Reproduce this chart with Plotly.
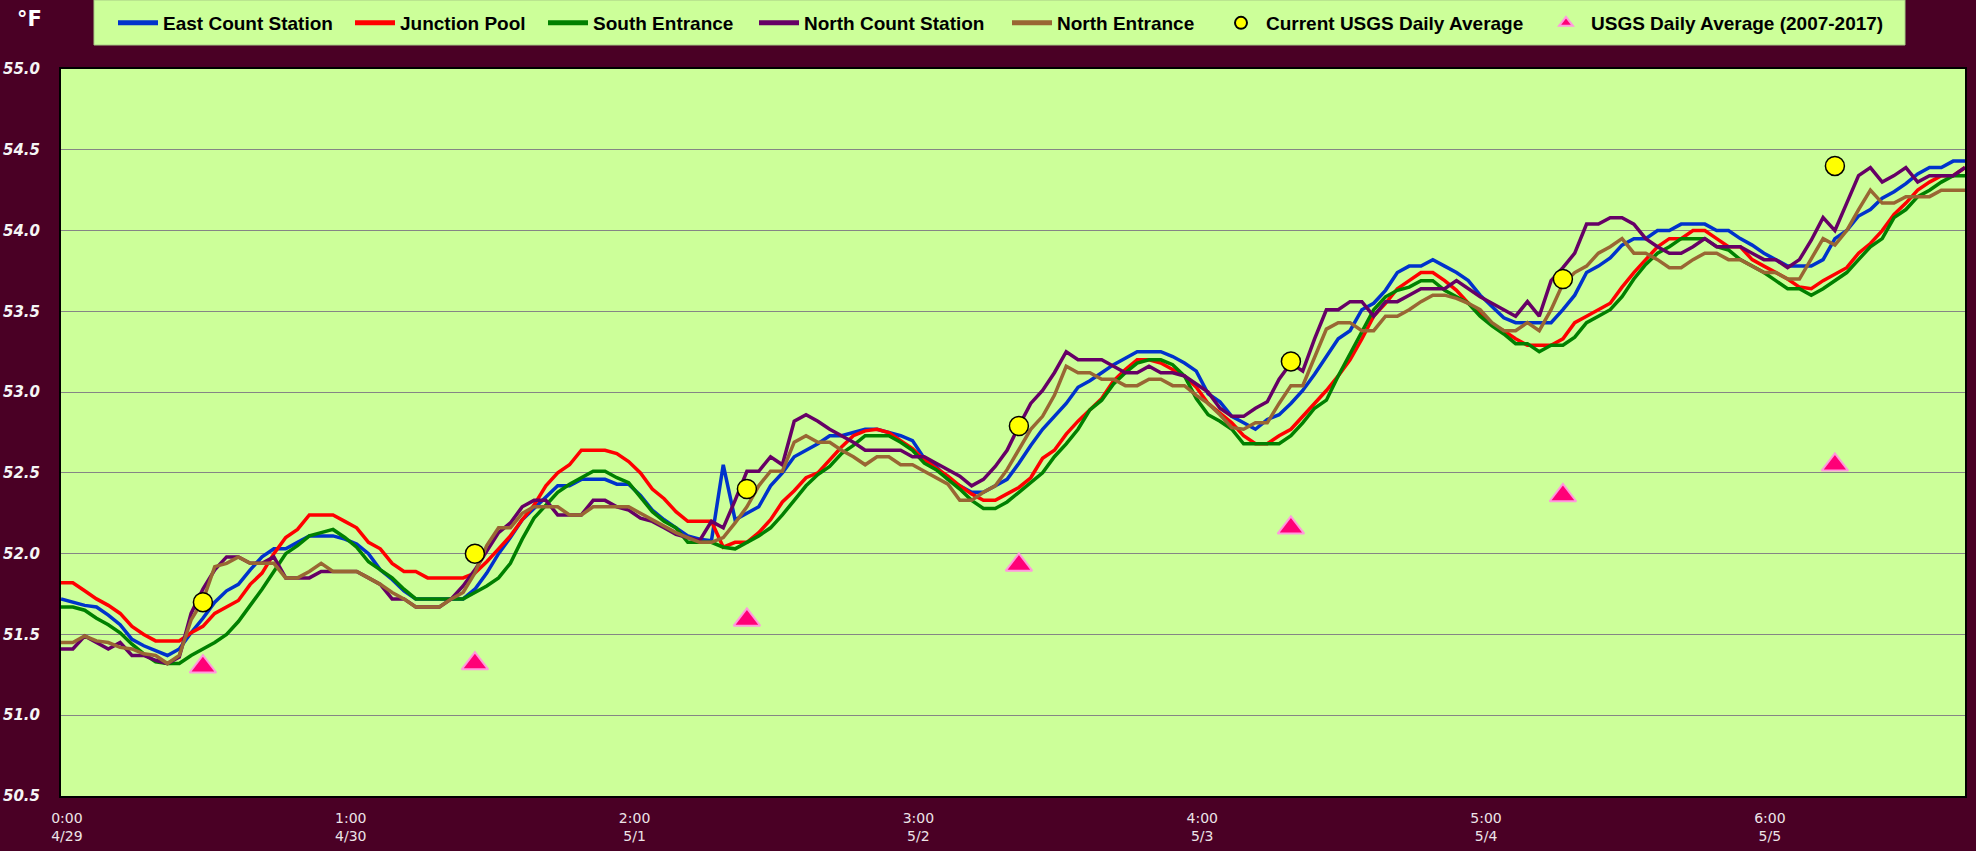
import plotly.graph_objects as go

# ---------------- data ----------------
TICK_TEXT = ["0:00<br>4/29", "1:00<br>4/30", "2:00<br>5/1", "3:00<br>5/2",
             "4:00<br>5/3", "5:00<br>5/4", "6:00<br>5/5"]

SERIES_NAMES = ["East Count Station", "Junction Pool", "South Entrance",
                "North Count Station", "North Entrance"]

EAST_COUNT = [
    51.72, 51.70, 51.68, 51.67, 51.62, 51.56, 51.47, 51.43, 51.40, 51.37,
    51.41, 51.51, 51.60, 51.70, 51.77, 51.81, 51.90, 51.98, 52.03, 52.03,
    52.07, 52.11, 52.11, 52.11, 52.09, 52.06, 52.00, 51.90, 51.84, 51.77,
    51.72, 51.72, 51.72, 51.72, 51.72, 51.78, 51.88, 52.00, 52.10, 52.21,
    52.28, 52.35, 52.42, 52.42, 52.46, 52.46, 52.46, 52.43, 52.43, 52.36,
    52.27, 52.21, 52.16, 52.11, 52.09, 52.08, 52.55, 52.21, 52.25, 52.29,
    52.42, 52.50, 52.60, 52.64, 52.68, 52.73, 52.73, 52.75, 52.77, 52.77,
    52.75, 52.73, 52.70, 52.59, 52.54, 52.46, 52.42, 52.38, 52.38, 52.42,
    52.46, 52.56, 52.67, 52.77, 52.85, 52.93, 53.03, 53.07, 53.12, 53.17,
    53.21, 53.25, 53.25, 53.25, 53.22, 53.18, 53.13, 52.99, 52.94, 52.85,
    52.81, 52.77, 52.83, 52.86, 52.93, 53.01, 53.11, 53.22, 53.33, 53.38,
    53.51, 53.55, 53.63, 53.74, 53.78, 53.78, 53.82, 53.78, 53.74, 53.69,
    53.60, 53.53, 53.46, 53.43, 53.43, 53.43, 53.43, 53.51, 53.60, 53.74,
    53.78, 53.83, 53.91, 53.95, 53.95, 54.00, 54.00, 54.04, 54.04, 54.04,
    54.00, 54.00, 53.95, 53.91, 53.86, 53.82, 53.78, 53.78, 53.78, 53.82,
    53.95, 54.00, 54.09, 54.13, 54.20, 54.24, 54.29, 54.35, 54.39, 54.39,
    54.43, 54.43,
]

JUNCTION_POOL = [
    51.82, 51.82, 51.77, 51.72, 51.68, 51.63, 51.55, 51.50, 51.46, 51.46,
    51.46, 51.51, 51.55, 51.63, 51.67, 51.71, 51.81, 51.88, 52.00, 52.10,
    52.15, 52.24, 52.24, 52.24, 52.20, 52.16, 52.07, 52.03, 51.94, 51.89,
    51.89, 51.85, 51.85, 51.85, 51.85, 51.88, 51.95, 52.03, 52.11, 52.21,
    52.30, 52.42, 52.50, 52.55, 52.64, 52.64, 52.64, 52.62, 52.57, 52.50,
    52.40, 52.34, 52.26, 52.20, 52.20, 52.20, 52.04, 52.07, 52.07, 52.13,
    52.21, 52.32, 52.39, 52.47, 52.50, 52.58, 52.66, 52.73, 52.76, 52.77,
    52.75, 52.70, 52.65, 52.58, 52.53, 52.48, 52.42, 52.37, 52.33, 52.33,
    52.37, 52.41, 52.47, 52.59, 52.64, 52.74, 52.82, 52.89, 52.96, 53.07,
    53.14, 53.20, 53.20, 53.18, 53.14, 53.10, 53.03, 52.93, 52.87, 52.81,
    52.73, 52.68, 52.68, 52.73, 52.77, 52.85, 52.93, 53.01, 53.10, 53.20,
    53.33, 53.47, 53.55, 53.64, 53.69, 53.74, 53.74, 53.69, 53.63, 53.55,
    53.49, 53.42, 53.38, 53.33, 53.29, 53.29, 53.29, 53.33, 53.43, 53.47,
    53.51, 53.55, 53.65, 53.74, 53.82, 53.90, 53.95, 53.95, 54.00, 54.00,
    53.95, 53.90, 53.90, 53.82, 53.78, 53.74, 53.70, 53.65, 53.64, 53.69,
    53.73, 53.77, 53.86, 53.92, 54.00, 54.10, 54.17, 54.25, 54.30, 54.34,
    54.34, 54.39,
]

SOUTH_ENTRANCE = [
    51.67, 51.67, 51.65, 51.60, 51.56, 51.51, 51.44, 51.38, 51.33, 51.32,
    51.32, 51.37, 51.41, 51.45, 51.50, 51.58, 51.68, 51.78, 51.89, 52.00,
    52.05, 52.11, 52.13, 52.15, 52.10, 52.04, 51.95, 51.90, 51.85, 51.78,
    51.72, 51.72, 51.72, 51.72, 51.72, 51.76, 51.80, 51.85, 51.94, 52.09,
    52.22, 52.30, 52.38, 52.43, 52.47, 52.51, 52.51, 52.47, 52.44, 52.35,
    52.26, 52.20, 52.16, 52.07, 52.07, 52.07, 52.04, 52.03, 52.07, 52.11,
    52.16, 52.24, 52.33, 52.42, 52.49, 52.54, 52.62, 52.67, 52.73, 52.73,
    52.73, 52.69, 52.64, 52.56, 52.52, 52.46, 52.40, 52.33, 52.28, 52.28,
    52.32, 52.38, 52.44, 52.50, 52.60, 52.68, 52.77, 52.89, 52.95, 53.05,
    53.12, 53.18, 53.20, 53.20, 53.17, 53.10, 52.96, 52.86, 52.82, 52.77,
    52.68, 52.68, 52.68, 52.68, 52.73, 52.81, 52.90, 52.95, 53.10, 53.24,
    53.38, 53.51, 53.59, 53.63, 53.65, 53.69, 53.69, 53.63, 53.59, 53.55,
    53.47, 53.41, 53.36, 53.30, 53.30, 53.25, 53.29, 53.29, 53.34, 53.43,
    53.47, 53.51, 53.59, 53.70, 53.79, 53.86, 53.90, 53.95, 53.95, 53.95,
    53.90, 53.88, 53.82, 53.78, 53.74, 53.69, 53.64, 53.64, 53.60, 53.64,
    53.69, 53.74, 53.82, 53.90, 53.95, 54.08, 54.13, 54.21, 54.25, 54.30,
    54.34, 54.34,
]

NORTH_COUNT = [
    51.41, 51.41, 51.49, 51.45, 51.41, 51.45, 51.37, 51.37, 51.34, 51.32,
    51.36, 51.63, 51.78, 51.90, 51.98, 51.98, 51.94, 51.94, 51.98, 51.85,
    51.85, 51.85, 51.89, 51.89, 51.89, 51.89, 51.85, 51.81, 51.72, 51.72,
    51.67, 51.67, 51.67, 51.72, 51.80, 51.90, 52.02, 52.13, 52.19, 52.29,
    52.33, 52.33, 52.24, 52.24, 52.24, 52.33, 52.33, 52.29, 52.27, 52.22,
    52.20, 52.16, 52.12, 52.10, 52.08, 52.20, 52.16, 52.33, 52.51, 52.51,
    52.60, 52.55, 52.82, 52.86, 52.82, 52.77, 52.73, 52.69, 52.64, 52.64,
    52.64, 52.64, 52.60, 52.60, 52.56, 52.52, 52.48, 52.42, 52.46, 52.54,
    52.64, 52.79, 52.93, 53.01, 53.12, 53.25, 53.20, 53.20, 53.20, 53.16,
    53.12, 53.12, 53.16, 53.12, 53.12, 53.10, 53.05, 53.00, 52.90, 52.85,
    52.85, 52.90, 52.94, 53.08, 53.18, 53.13, 53.33, 53.51, 53.51, 53.56,
    53.56, 53.47, 53.56, 53.56, 53.60, 53.64, 53.64, 53.64, 53.69, 53.64,
    53.59, 53.55, 53.51, 53.47, 53.56, 53.47, 53.69, 53.77, 53.86, 54.04,
    54.04, 54.08, 54.08, 54.04, 53.95, 53.90, 53.86, 53.86, 53.90, 53.95,
    53.90, 53.90, 53.90, 53.86, 53.82, 53.82, 53.77, 53.82, 53.94, 54.08,
    54.00, 54.17, 54.34, 54.39, 54.30, 54.34, 54.39, 54.30, 54.34, 54.34,
    54.34, 54.39,
]

NORTH_ENTRANCE = [
    51.45, 51.45, 51.49, 51.46, 51.45, 51.42, 51.41, 51.38, 51.37, 51.32,
    51.37, 51.59, 51.71, 51.92, 51.94, 51.98, 51.94, 51.94, 51.94, 51.85,
    51.85, 51.89, 51.94, 51.89, 51.89, 51.89, 51.85, 51.81, 51.76, 51.72,
    51.67, 51.67, 51.67, 51.72, 51.76, 51.88, 52.05, 52.16, 52.16, 52.25,
    52.29, 52.29, 52.29, 52.24, 52.24, 52.29, 52.29, 52.29, 52.29, 52.25,
    52.21, 52.17, 52.13, 52.10, 52.07, 52.07, 52.10, 52.19, 52.29, 52.42,
    52.51, 52.51, 52.69, 52.73, 52.69, 52.69, 52.64, 52.60, 52.55, 52.60,
    52.60, 52.55, 52.55, 52.51, 52.47, 52.43, 52.33, 52.33, 52.38, 52.42,
    52.52, 52.64, 52.77, 52.85, 52.98, 53.16, 53.12, 53.12, 53.08, 53.08,
    53.04, 53.04, 53.08, 53.08, 53.04, 53.04, 52.98, 52.93, 52.86, 52.78,
    52.77, 52.81, 52.81, 52.93, 53.04, 53.04, 53.22, 53.39, 53.43, 53.43,
    53.38, 53.38, 53.47, 53.47, 53.51, 53.56, 53.60, 53.60, 53.58, 53.55,
    53.51, 53.43, 53.38, 53.38, 53.43, 53.38, 53.51, 53.67, 53.74, 53.78,
    53.86, 53.90, 53.95, 53.86, 53.86, 53.82, 53.77, 53.77, 53.82, 53.86,
    53.86, 53.82, 53.82, 53.78, 53.74, 53.74, 53.70, 53.70, 53.82, 53.95,
    53.91, 54.00, 54.13, 54.25, 54.17, 54.17, 54.21, 54.21, 54.21, 54.25,
    54.25, 54.25,
]

USGS_IDX = [12, 35, 58, 81, 104, 127, 150]
USGS_CURRENT = [51.70, 52.00, 52.40, 52.79, 53.19, 53.70, 54.40]
USGS_HISTORIC = [51.30, 51.32, 51.59, 51.93, 52.16, 52.36, 52.55]

# ---------------- styling ----------------
PAPER = "#4A0025"
PLOT_BG = "#CCFF99"
LINE_COLORS = ["#0033CC", "#FF0000", "#008000", "#660066", "#996633"]
LEGEND_WIDTHS = [182, 138, 156, 198, 154, 270, 305]

W, H = 1976, 851
ML, MR, MT, MB = 61, 11, 69, 55
PW, PH = W - ML - MR, H - MT - MB


def px_x(px):
    return (px - ML) / PW


def px_y(py):
    return (H - MB - py) / PH


fig = go.Figure()

series = [EAST_COUNT, JUNCTION_POOL, SOUTH_ENTRANCE, NORTH_COUNT, NORTH_ENTRANCE]
for k, (name, vals) in enumerate(zip(SERIES_NAMES, series)):
    fig.add_trace(go.Scatter(
        x=list(range(len(vals))), y=vals, mode="lines", name=name,
        line=dict(color=LINE_COLORS[k], width=3.5),
        legendwidth=LEGEND_WIDTHS[k],
    ))

fig.add_trace(go.Scatter(
    x=USGS_IDX, y=USGS_CURRENT, mode="markers",
    name="Current USGS Daily Average",
    marker=dict(symbol="circle", size=19, color="#FFFF00",
                line=dict(color="#000000", width=1.5)),
    legendwidth=LEGEND_WIDTHS[5],
))
fig.add_trace(go.Scatter(
    x=USGS_IDX, y=USGS_HISTORIC, mode="markers",
    name="USGS Daily Average (2007-2017)",
    marker=dict(symbol="triangle-up", size=23, color="#FF0077",
                line=dict(color="#FF99DD", width=2)),
    legendwidth=LEGEND_WIDTHS[6],
))

n = len(EAST_COUNT)
fig.update_xaxes(
    range=[0, n - 1],
    tickvals=[0.5 + 24 * k for k in range(len(TICK_TEXT))],
    ticktext=TICK_TEXT,
    showgrid=False, zeroline=False,
    showline=True, linecolor="#000000", linewidth=2, mirror=True,
    ticks="", ticklabelstandoff=8,
    tickfont=dict(family="DejaVu Sans", size=14, color="#EDE4E8"),
)
fig.update_yaxes(
    range=[50.5, 55.0],
    tickvals=[50.5 + 0.5 * k for k in range(10)],
    tickformat=".1f",
    showgrid=True, gridcolor="#858585", gridwidth=1.2, zeroline=False,
    showline=True, linecolor="#000000", linewidth=2, mirror=True,
    ticks="", ticklabelstandoff=16,
    tickfont=dict(family="DejaVu Sans", size=15, color="#F5F5F5",
                  weight="bold", style="italic"),
)

fig.add_shape(type="rect", xref="paper", yref="paper",
              x0=px_x(94), x1=px_x(1905), y0=px_y(45), y1=px_y(0),
              fillcolor=PLOT_BG, line=dict(color="#A8CC85", width=1),
              layer="below")

fig.add_annotation(text="°F", xref="paper", yref="paper",
                   x=px_x(29), y=px_y(19), xanchor="center", yanchor="middle",
                   showarrow=False,
                   font=dict(family="DejaVu Sans", size=21, color="#FFFFFF",
                             weight="bold"))

fig.update_layout(
    width=W, height=H,
    margin=dict(l=ML, r=MR, t=MT, b=MB, autoexpand=False),
    paper_bgcolor=PAPER, plot_bgcolor=PLOT_BG,
    showlegend=True,
    legend=dict(
        orientation="h", xref="container", yref="container",
        x=113 / W, y=1 - 4 / H, xanchor="left", yanchor="top",
        bgcolor="rgba(0,0,0,0)", borderwidth=0,
        itemwidth=40, itemsizing="constant",
        font=dict(family="Liberation Sans", size=19, color="#000000",
                  weight="bold"),
    ),
    hovermode=False,
)

fig.write_html("out.html", config={"displayModeBar": False},
               post_script="document.body.style.margin='0px';")
